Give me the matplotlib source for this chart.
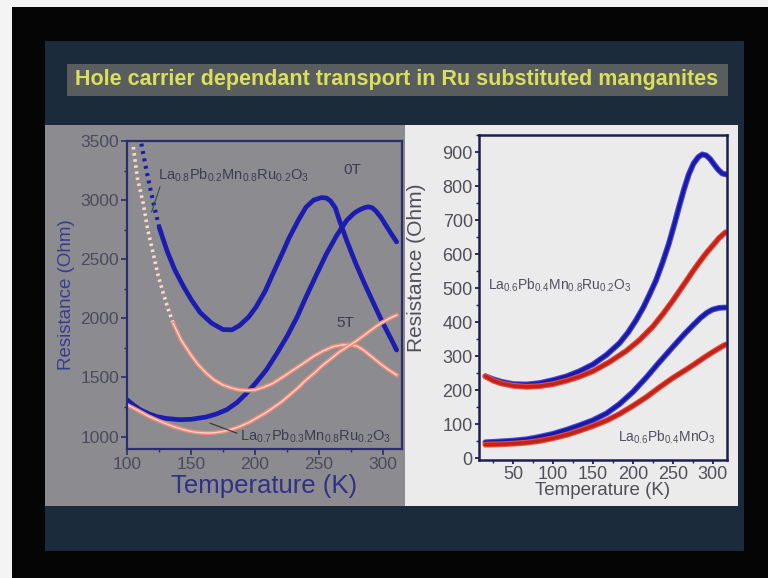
import matplotlib
matplotlib.use("Agg")
from matplotlib import pyplot as plt
from matplotlib.patches import Rectangle
from matplotlib.ticker import MultipleLocator

plt.rcParams['font.family'] = ['Liberation Sans', 'DejaVu Sans']
plt.rcParams['mathtext.default'] = 'regular'

W, H = 768, 578

# ---- left panel data: La0.8Pb0.2Mn0.8Ru0.2O3 and La0.7Pb0.3Mn0.8Ru0.2O3 ----
t_l1_0T = [111, 115, 120, 125, 131, 137, 144, 150, 157, 166, 175, 182, 188, 195, 201, 208, 214,
           221, 227, 234, 240, 246, 252, 256, 259, 263, 266, 272, 279, 286, 293, 300, 306, 311]
r_l1_0T = [3477, 3250, 2999, 2770, 2575, 2415, 2270, 2160, 2050, 1960, 1905, 1903, 1940, 2010, 2098,
           2230, 2375, 2540, 2685, 2830, 2940, 3000, 3021, 3018, 2995, 2935, 2835, 2655, 2464, 2290,
           2126, 1965, 1840, 1732]
t_l1_5T = [104.7, 108, 112.5, 116, 120.3, 124, 128.2, 132, 136, 142, 149, 155, 162, 168, 175, 182,
           188, 195, 200, 207, 214, 222, 230, 238, 245.5, 253, 261, 268, 274, 280, 285, 291, 298, 304, 311]
r_l1_5T = [3449, 3180, 2971, 2750, 2548, 2370, 2211, 2080, 1957, 1820, 1704, 1615, 1535, 1480, 1436,
           1410, 1394, 1390, 1394, 1418, 1450, 1505, 1563, 1620, 1676, 1722, 1760, 1775, 1778, 1765,
           1732, 1680, 1619, 1570, 1521]
t_l2_0T = [100, 105, 110, 117, 123, 130, 141, 150, 162, 170, 178, 186, 193, 201, 209, 217, 225, 233,
           240, 248, 256, 264, 272, 278, 282, 286, 289, 292, 295, 299, 303, 307, 311]
r_l2_0T = [1310, 1265, 1228, 1192, 1169, 1154, 1143, 1146, 1166, 1192, 1228, 1288, 1362, 1458, 1565,
           1700, 1845, 2010, 2180, 2365, 2545, 2700, 2830, 2892, 2918, 2937, 2943, 2935, 2905, 2850,
           2780, 2712, 2647]
t_l2_5T = [100, 105, 110, 116, 123, 130, 136, 143, 149, 155, 162, 168, 175, 182, 188, 195, 201, 208,
           214, 221, 227, 234, 240, 247, 253, 260, 266, 273, 279, 286, 292.5, 298, 303, 307, 311]
r_l2_5T = [1268, 1240, 1211, 1175, 1141, 1110, 1085, 1062, 1045, 1035, 1030, 1032, 1043, 1062, 1085,
           1118, 1155, 1198, 1242, 1295, 1350, 1415, 1479, 1542, 1603, 1662, 1715, 1764, 1805, 1860,
           1913, 1955, 1985, 2008, 2027]
n_dot_l1_0T = 3   # first points drawn as dots (sparse data)
n_dot_l1_5T = 8

# ---- right panel data: La0.6Pb0.4Mn0.8Ru0.2O3 and La0.6Pb0.4MnO3 ----
t_ru_0T = [15, 25, 35, 50, 67, 83, 100, 117, 133, 150, 167, 183, 194, 204, 213, 221, 229, 237, 245,
           252, 258, 264, 270, 276, 282, 287, 292, 297, 302, 307, 312, 317]
r_ru_0T = [241, 232, 225, 218, 217, 221, 230, 241, 256, 276, 304, 338, 370, 406, 443, 482, 523, 574,
           630, 688, 740, 790, 834, 866, 885, 893, 890, 879, 863, 848, 837, 834]
t_ru_5T = [15, 25, 35, 50, 67, 83, 100, 117, 133, 150, 170, 192, 208, 225, 238, 250, 259, 267, 275,
           283, 291, 300, 308, 316]
r_ru_5T = [241, 228, 220, 213, 210, 212, 218, 228, 240, 256, 282, 316, 347, 387, 425, 463, 494, 521,
           549, 575, 600, 625, 647, 664]
t_mn_0T = [15, 30, 50, 67, 83, 100, 117, 133, 150, 167, 183, 200, 217, 233, 250, 265, 275, 285, 293,
           300, 308, 316]
r_mn_0T = [47, 49, 52, 56, 63, 72, 84, 97, 112, 132, 159, 195, 238, 282, 327, 366, 390, 413, 428,
           437, 442, 443]
t_mn_5T = [15, 30, 50, 67, 83, 100, 117, 133, 150, 167, 183, 200, 217, 233, 250, 265, 275, 290, 300,
           312, 316]
r_mn_5T = [40, 41, 43, 46, 51, 59, 69, 81, 95, 111, 130, 154, 180, 208, 236, 258, 273, 297, 312,
           329, 334]


def box(x0, y0, x1, y1):
    return (x0 / W, 1 - y1 / H, (x1 - x0) / W, (y1 - y0) / H)


fig = plt.figure(figsize=(W / 100, H / 100), dpi=100)
fig.patch.set_facecolor('#050505')

def rect(x0, y0, x1, y1, color):
    x, y, w, h = box(x0, y0, x1, y1)
    fig.add_artist(Rectangle((x, y), w, h, transform=fig.transFigure,
                             facecolor=color, edgecolor='none', zorder=0))

rect(0, 0, 12, H, '#f4f4f4')
rect(0, 0, W, 7, '#f4f4f4')
rect(45, 41, 744, 551, '#1c2b3b')
rect(67, 64, 728, 96, '#5a5d5e')
rect(45, 125, 405, 506, '#8c8c90')
rect(405, 125, 738, 506, '#ebebeb')

fig.text(397 / W, 1 - 80 / H, 'Hole carrier dependant transport in Ru substituted manganites',
         color='#d9e05c', fontsize=15.5, fontweight='bold', ha='center', va='center')

# ---------------- left chart ----------------
axl = fig.add_axes(box(127.3, 141, 401.7, 449))
axl.set_facecolor('none')
blue_l = '#1c1cb0'
pink_o = '#f08c7c'
pink_i = '#ffd8cc'

for t, r, nd in [(t_l1_0T, r_l1_0T, n_dot_l1_0T), (t_l2_0T, r_l2_0T, 0)]:
    if nd:
        axl.plot(t[:nd + 1], r[:nd + 1], color=blue_l, lw=3, ls=(0, (0.7, 1.1)))
    axl.plot(t[nd:], r[nd:], color=blue_l, lw=3.4, solid_capstyle='round')

for t, r, nd in [(t_l1_5T, r_l1_5T, n_dot_l1_5T), (t_l2_5T, r_l2_5T, 0)]:
    if nd:
        axl.plot(t[:nd + 1], r[:nd + 1], color=pink_i, lw=2.6, ls=(0, (0.7, 1.0)))
    axl.plot(t[nd:], r[nd:], color=pink_o, lw=3.0)
    axl.plot(t[nd:], r[nd:], color=pink_i, lw=0.9)

lab_c = '#3c3c50'
axl.text(124, 3210, r'La$_{0.8}$Pb$_{0.2}$Mn$_{0.8}$Ru$_{0.2}$O$_3$', fontsize=10.5,
         color=lab_c, ha='left', va='center')
axl.plot([125.6, 119.1], [3112, 2901], color='#305040', lw=0.8)
axl.text(188, 1000, r'La$_{0.7}$Pb$_{0.3}$Mn$_{0.8}$Ru$_{0.2}$O$_3$', fontsize=10.5,
         color=lab_c, ha='left', va='center')
axl.plot([164.9, 185.8], [1113, 1029], color='#303030', lw=0.8)
axl.text(276, 3252, '0T', fontsize=11, color=lab_c, ha='center', va='center')
axl.text(271, 1960, '5T', fontsize=11, color=lab_c, ha='center', va='center')

axl.set_xlim(100, 315)
axl.set_ylim(895, 3500)
axl.xaxis.set_major_locator(MultipleLocator(50))
axl.xaxis.set_minor_locator(MultipleLocator(25))
axl.yaxis.set_major_locator(MultipleLocator(500))
axl.yaxis.set_minor_locator(MultipleLocator(250))
axl.set_yticks([1000, 1500, 2000, 2500, 3000, 3500])
for s in axl.spines.values():
    s.set_color('#2b2b70')
    s.set_linewidth(1.6)
axl.tick_params(which='major', direction='out', length=4, width=1.2, color='#2b2b70',
                labelsize=12.5, labelcolor='#4a4a5c', pad=2)
axl.tick_params(which='minor', direction='out', length=2.5, width=1.0, color='#2b2b70')
axl.set_xlabel('Temperature (K)', fontsize=18.5, color='#303085', labelpad=1)
axl.set_ylabel('Resistance (Ohm)', fontsize=13.5, color='#3a3a90', labelpad=4)

# ---------------- right chart ----------------
axr = fig.add_axes(box(479, 135, 727, 460))
axr.set_facecolor('none')
for t, r in [(t_ru_0T, r_ru_0T), (t_mn_0T, r_mn_0T)]:
    axr.plot(t, r, color='#4848d8', lw=4.2, solid_capstyle='round')
    axr.plot(t, r, color='#1a1aa8', lw=2.6, solid_capstyle='round')
for t, r in [(t_ru_5T, r_ru_5T), (t_mn_5T, r_mn_5T)]:
    axr.plot(t, r, color='#ee4a40', lw=4.2, solid_capstyle='round')
    axr.plot(t, r, color='#c02418', lw=2.6, solid_capstyle='round')

axr.text(18.75, 508, r'La$_{0.6}$Pb$_{0.4}$Mn$_{0.8}$Ru$_{0.2}$O$_3$', fontsize=10,
         color='#505060', ha='left', va='center')
axr.text(181, 61, r'La$_{0.6}$Pb$_{0.4}$MnO$_3$', fontsize=10,
         color='#505060', ha='left', va='center')

axr.set_xlim(7, 318)
axr.set_ylim(-5, 950)
axr.xaxis.set_major_locator(MultipleLocator(50))
axr.xaxis.set_minor_locator(MultipleLocator(25))
axr.set_xticks([50, 100, 150, 200, 250, 300])
axr.yaxis.set_major_locator(MultipleLocator(100))
axr.yaxis.set_minor_locator(MultipleLocator(50))
axr.set_yticks(range(0, 901, 100))
for s in axr.spines.values():
    s.set_color('#1e1e50')
    s.set_linewidth(1.8)
axr.tick_params(which='major', direction='out', length=3, width=1.3, color='#1e1e50',
                labelsize=13, labelcolor='#50505a', pad=1.5)
axr.tick_params(which='minor', direction='out', length=2, width=1.0, color='#1e1e50')
axr.set_xlabel('Temperature (K)', fontsize=13.5, color='#50505a', labelpad=-1)
axr.set_ylabel('Resistance (Ohm)', fontsize=15, color='#50505a', labelpad=3)
axr.yaxis.set_label_coords(-0.215, 0.59)

fig.savefig('out.png', dpi=100, facecolor=fig.get_facecolor())
